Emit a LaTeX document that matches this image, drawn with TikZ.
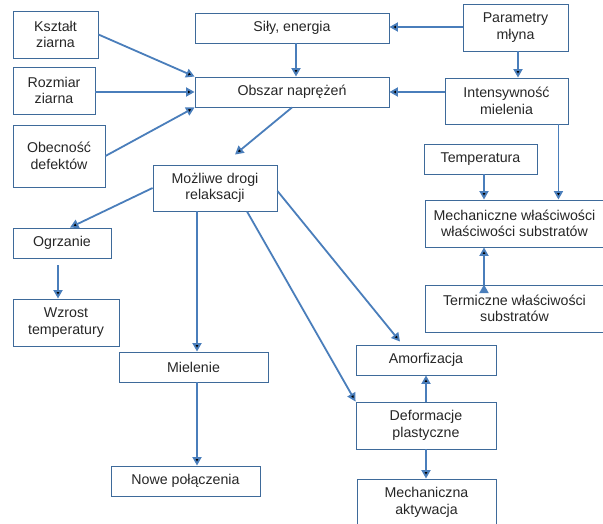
\documentclass[tikz,border=0pt]{standalone}
\usepackage{fontspec}
\setmainfont{Liberation Sans}
\usetikzlibrary{arrows.meta,positioning}
\definecolor{linia}{HTML}{4A7EBB}
\definecolor{ramka}{HTML}{3E6A9A}
\definecolor{tekst}{HTML}{262626}
\tikzset{
  blok/.style={draw=ramka, line width=0.9pt, text=tekst, align=center, inner sep=0pt,
    font=\fontsize{14.2}{16.5}\selectfont},
  strz/.style={draw=linia, line width=1.8pt, -{Triangle[width=9pt,length=8.5pt]}}
}

\begin{document}
\begin{tikzpicture}[x=1pt,y=-1pt]
   \useasboundingbox (0,0) rectangle (603,524);
   % lewa kolumna
   \node[blok, minimum width=85, minimum height=47] (ksztalt) at (55.5,34.5) {Kształt\\ziarna};
   \node[blok, minimum width=82, minimum height=47] (rozmiar) at (54,90.5) {Rozmiar\\ziarna};
   \node[blok, minimum width=92, minimum height=62] (defekty) at (59,156) {Obecność\\defektów};
   % srodek
   \node[blok, minimum width=194, minimum height=30] (sily) at (292,28) {Siły, energia};
   \node[blok, minimum width=194, minimum height=30] (obszar) at (292,92) {Obszar naprężeń};
   \node[blok, minimum width=124, minimum height=46] (drogi) at (215,188) {Możliwe drogi\\relaksacji};
   % prawa kolumna
   \node[blok, minimum width=105, minimum height=47] (param) at (515.5,27.5) {Parametry\\młyna};
   \node[blok, minimum width=123, minimum height=46] (intens) at (506.5,101) {Intensywność\\mielenia};
   \node[blok, minimum width=113, minimum height=30] (temp) at (480.5,159) {Temperatura};
   \node[blok, minimum width=179, minimum height=47] (mech) at (514.5,223.5) {Mechaniczne właściwości\\właściwości substratów};
   \node[blok, minimum width=179, minimum height=47] (termo) at (514.5,308.5) {Termiczne właściwości\\substratów};
   % dol
   \node[blok, minimum width=98, minimum height=30] (ogrz) at (62,243) {Ogrzanie};
   \node[blok, minimum width=106, minimum height=47] (wzrost) at (66,322.5) {Wzrost\\temperatury};
   \node[blok, minimum width=149, minimum height=30] (miel) at (193.5,367) {Mielenie};
   \node[blok, minimum width=149, minimum height=30] (nowe) at (185.5,481) {Nowe połączenia};
   \node[blok, minimum width=140, minimum height=30] (amorf) at (426,360) {Amorfizacja};
   \node[blok, minimum width=140, minimum height=47] (deform) at (426,425.5) {Deformacje\\plastyczne};
   \node[blok, minimum width=139, minimum height=47] (aktyw) at (426.5,502.5) {Mechaniczna\\aktywacja};

   \path[strz]
    (ksztalt.east) edge (obszar.north west)
    (rozmiar.east |- obszar) edge (obszar.west)
    (defekty.east) edge (obszar.south west)
    ([xshift=4]sily.south) edge ([xshift=4]obszar.north)
    ([yshift=0.5]param.west) edge ([yshift=0.5]param.west -| sily.east)
    ([xshift=2.5]param.south) edge ([xshift=2.5]param.south |- intens.north)
    (intens.west |- obszar) edge (obszar.east)
    (obszar.south) edge ([shift={(20,-10)}]drogi.north)
    (drogi.west) edge ([xshift=8]ogrz.north)
    ([shift={(-4,7)}]ogrz.south) edge ([xshift=-4]ogrz.south |- wzrost.north)
    ([xshift=-18]drogi.south) edge ([xshift=-18]drogi.south |- miel.north)
    ([xshift=3.5]miel.south) edge ([xshift=3.5]miel.south |- nowe.north)
    ([xshift=32]drogi.south) edge (deform.north west)
    ([yshift=-3]drogi.east) edge ([shift={(-26,-3)}]amorf.north)
    (deform.north) edge (amorf.south)
    (deform.south) edge (aktyw.north -| deform.south)
    ([xshift=3.5]temp.south) edge ([xshift=3.5]temp.south |- mech.north)
    ([xshift=-10]intens.south east) edge ([xshift=-10]intens.south east |- mech.north)
    ([xshift=-30.5]termo.north) edge ([xshift=-30.5]termo.north |- mech.south);
\end{tikzpicture}
\end{document}
